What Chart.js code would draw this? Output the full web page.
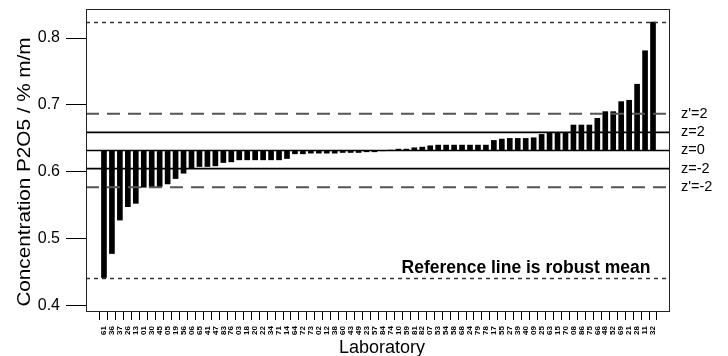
<!DOCTYPE html>
<html>
<head>
<meta charset="utf-8">
<script src="https://cdn.jsdelivr.net/npm/chart.js@4.4.0/dist/chart.umd.min.js"></script>
<style>
html,body{margin:0;padding:0;background:#fff;}
#wrap{width:728px;height:356px;position:relative;}
</style>
</head>
<body>
<div id="wrap"><canvas id="c" width="728" height="356"></canvas></div>
<script>
const labs = ["61","36","37","26","13","01","30","45","05","19",
              "56","06","65","41","47","83","76","03","18","20",
              "22","34","71","14","64","72","73","02","12","38",
              "60","43","49","23","57","84","74","10","59","81",
              "82","07","53","54","58","68","24","79","78","17",
              "55","27","39","40","09","25","63","15","70","08",
              "86","75","66","48","52","69","21","28","11","32"];
const values = [0.442,0.478,0.528,0.548,0.553,0.577,0.577,0.578,0.582,0.590,
                0.598,0.605,0.608,0.608,0.609,0.614,0.615,0.618,0.618,0.618,
                0.618,0.618,0.618,0.620,0.627,0.627,0.628,0.628,0.628,0.628,
                0.629,0.629,0.629,0.630,0.630,0.6315,0.6325,0.634,0.634,0.636,
                0.637,0.639,0.640,0.640,0.640,0.640,0.640,0.640,0.640,0.647,
                0.649,0.650,0.650,0.650,0.651,0.656,0.659,0.659,0.659,0.670,
                0.670,0.670,0.680,0.690,0.690,0.705,0.707,0.731,0.781,0.824];
const robustMean = 0.632;
const sigmaZ = 0.01355;
const sigmaZPrime = 0.0274;
const yTicks = [0.4, 0.5, 0.6, 0.7, 0.8];
const refNames = ["z'=2", "z=2", "z=0", "z=-2", "z'=-2"];
const refValues = [robustMean + 2*sigmaZPrime, robustMean + 2*sigmaZ, robustMean,
                   robustMean - 2*sigmaZ, robustMean - 2*sigmaZPrime];
const refStyles = ["dashed", "solid", "solid", "solid", "dashed"];
const noteText = "Reference line is robust mean";
const yTitle = "Concentration P2O5 / % m/m";
const xTitle = "Laboratory";

const FONT = "'Liberation Sans', Arial, Helvetica, sans-serif";

const overlay = {
  id: 'overlay',
  afterDatasetsDraw(chart) {
    const ctx = chart.ctx;
    const a = chart.chartArea;
    const y = chart.scales.y;
    ctx.save();
    // min / max dotted lines
    const vmin = Math.min(...values), vmax = Math.max(...values);
    ctx.strokeStyle = '#333';
    ctx.lineWidth = 1.3;
    ctx.setLineDash([4, 4]);
    [vmin, vmax].forEach(v => {
      const py = Math.round(y.getPixelForValue(v)) + 0.5;
      ctx.beginPath(); ctx.moveTo(a.left, py); ctx.lineTo(a.right, py); ctx.stroke();
    });
    // reference lines
    refValues.forEach((v, i) => {
      const py = y.getPixelForValue(v);
      if (refStyles[i] === 'dashed') {
        ctx.strokeStyle = '#555'; ctx.lineWidth = 2; ctx.setLineDash([13, 8]);
      } else {
        ctx.strokeStyle = '#000'; ctx.lineWidth = 1.6; ctx.setLineDash([]);
      }
      ctx.beginPath(); ctx.moveTo(a.left, py); ctx.lineTo(a.right, py); ctx.stroke();
    });
    ctx.setLineDash([]);
    // box
    ctx.strokeStyle = '#222';
    ctx.lineWidth = 1;
    ctx.strokeRect(a.left + 0.5, a.top + 0.5, a.right - a.left - 1, a.bottom - a.top);
    // right labels
    ctx.fillStyle = '#000';
    ctx.font = '14.5px ' + FONT;
    ctx.textAlign = 'left';
    ctx.textBaseline = 'middle';
    refValues.forEach((v, i) => {
      ctx.fillText(refNames[i], a.right + 11, y.getPixelForValue(v));
    });
    // note
    ctx.font = 'bold 17.5px ' + FONT;
    ctx.textAlign = 'center';
    ctx.fillText(noteText, 526, 268);
    // axis titles
    ctx.font = '18px ' + FONT;
    ctx.textBaseline = 'alphabetic';
    ctx.fillText(xTitle, (a.left + a.right) / 2 + 4, 353);
    ctx.save();
    ctx.translate(30, 172);
    ctx.rotate(-Math.PI / 2);
    ctx.scale(1.15, 1);
    ctx.fillText(yTitle, 0, 0);
    ctx.restore();
    ctx.restore();
  }
};

new Chart(document.getElementById('c'), {
  type: 'bar',
  data: {
    datasets: [{
      data: values.map((v, i) => ({x: i, y: v})),
      base: robustMean,
      backgroundColor: '#000',
      borderWidth: 0,
      barThickness: 5
    }]
  },
  options: {
    responsive: false,
    animation: false,
    events: [],
    layout: { padding: { top: 9, right: 58, bottom: 0, left: 0 } },
    plugins: { legend: { display: false }, tooltip: { enabled: false } },
    scales: {
      x: {
        type: 'linear',
        min: -1.734,
        max: 70.61,
        afterBuildTicks: s => { s.ticks = labs.map((l, i) => ({value: i})); },
        afterFit: s => { s.height = 45; s.paddingLeft = 0; s.paddingRight = 0; },
        grid: { drawOnChartArea: false, drawTicks: true, tickLength: 9, tickColor: '#000', tickWidth: 1 },
        border: { display: false },
        ticks: {
          autoSkip: false, minRotation: 90, maxRotation: 90, padding: 6,
          color: '#000', font: { family: FONT, size: 8, weight: 'bold' },
          callback: v => labs[v]
        }
      },
      y: {
        min: 0.3921,
        max: 0.8434,
        afterBuildTicks: s => { s.ticks = yTicks.map(v => ({value: v})); },
        afterFit: s => { s.width = 86; s.paddingTop = 0; s.paddingBottom = 0; },
        grid: { drawOnChartArea: false, drawTicks: true, tickLength: 20, tickColor: '#000', tickWidth: 1 },
        border: { display: false },
        ticks: {
          padding: 6, color: '#000', font: { family: FONT, size: 16 },
          callback: v => v.toFixed(1)
        }
      }
    }
  },
  plugins: [overlay]
});
</script>
</body>
</html>
